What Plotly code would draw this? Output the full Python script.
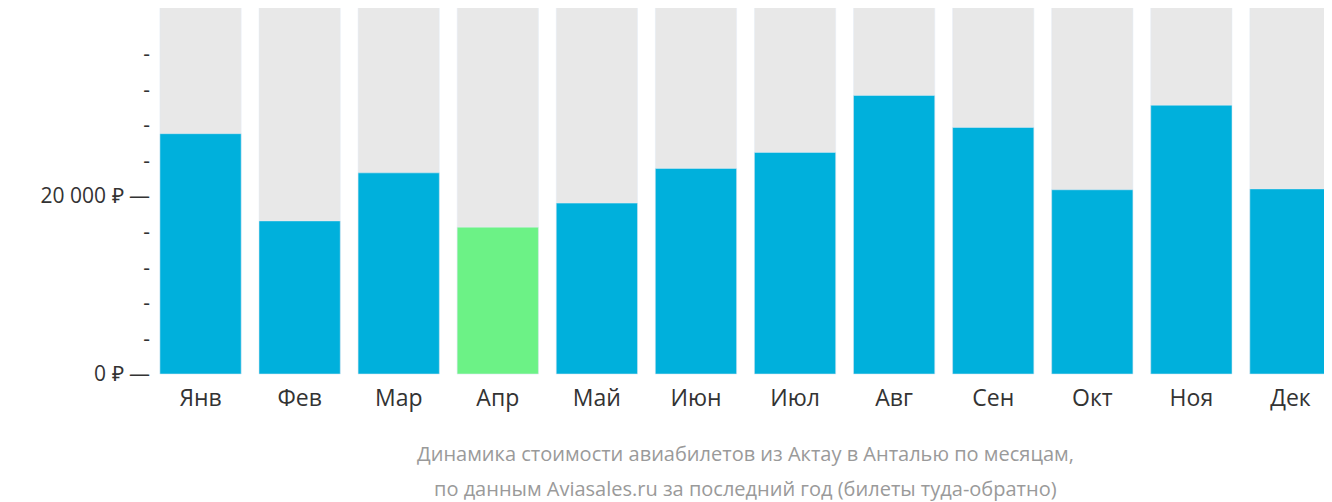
import plotly.graph_objects as go

months = ["Янв", "Фев", "Мар", "Апр", "Май", "Июн", "Июл", "Авг", "Сен", "Окт", "Ноя", "Дек"]
prices = [27000, 17200, 22600, 16500, 19200, 23100, 24900, 31300, 27700, 20700, 30200, 20800]
cheapest = "Апр"

tick_vals = list(range(0, 40001, 4000))
tick_text = [f"{v:,} ₽ —".replace(",", " ") if v % 20000 == 0 else "-" for v in tick_vals]

y_top = 50000
colors = ["#6cf286" if m == cheapest else "#00b0dc" for m in months]

fig = go.Figure()
fig.add_trace(go.Bar(x=months, y=[y_top] * len(months), marker_color="#e8e8e8", hoverinfo="skip"))
fig.add_trace(go.Bar(x=months, y=prices, marker_color=colors))

title_font = dict(size=20, color="#9a9a9a")
fig.update_layout(
    width=1332, height=502,
    barmode="overlay", bargap=0.18, showlegend=False,
    plot_bgcolor="white", paper_bgcolor="white",
    margin=dict(l=143, r=0, t=0, b=128),
    font=dict(family="Open Sans", size=21, color="#333"),
    annotations=[
        dict(text="Динамика стоимости авиабилетов из Актау в Анталью по месяцам,",
             x=0.5, y=-0.19, xref="paper", yref="paper", yanchor="middle",
             showarrow=False, font=title_font),
        dict(text="по данным Aviasales.ru за последний год (билеты туда-обратно)",
             x=0.5, y=-0.286, xref="paper", yref="paper", yanchor="middle",
             showarrow=False, font=title_font),
    ],
)
fig.update_xaxes(showgrid=False, ticks="", tickfont=dict(size=23), automargin=False)
fig.update_yaxes(range=[-899, 41123], tickvals=tick_vals, ticktext=tick_text,
                 showgrid=False, zeroline=False, ticks="", ticklabelstandoff=0,
                 automargin=False)

fig.write_html("out.html")
